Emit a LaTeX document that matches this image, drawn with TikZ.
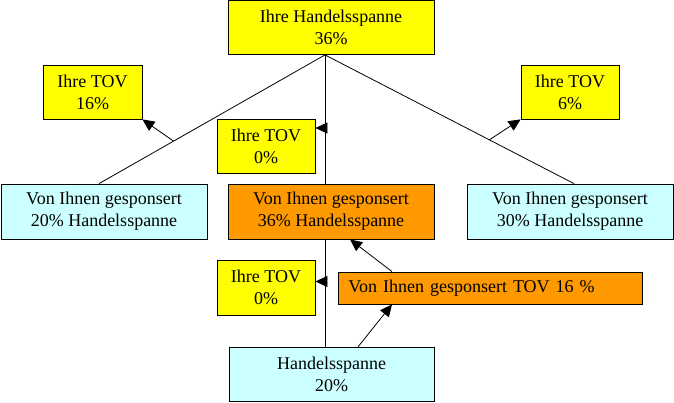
\documentclass[tikz,border=0pt]{standalone}
\usepackage{fontspec}
\setmainfont{Liberation Serif}
\usetikzlibrary{arrows.meta,backgrounds,calc}
\definecolor{tovyellow}{HTML}{FFFF00}
\definecolor{spancyan}{HTML}{CCFFFF}
\definecolor{sponsorange}{HTML}{FF9900}

\begin{document}
\begin{tikzpicture}[x=1pt, y=-1pt,
    box/.style={draw, line width=0.8pt, inner sep=0pt, align=center,
      font=\fontsize{18}{22}\selectfont, minimum height=54pt},
    tov/.style={box, fill=tovyellow, minimum width=98pt},
    span/.style={box, fill=spancyan, minimum width=206pt},
    sponsor/.style={box, fill=sponsorange, minimum width=206pt},
    link/.style={line width=0.8pt},
    >={Triangle[length=12pt,width=11pt]}]
  \useasboundingbox (0,0) rectangle (674,402);

  \node[tov, minimum width=206pt] (top) at (331,27.5) {Ihre Handelsspanne\\36\%};
  \node[tov, minimum width=99pt] (tovL) at (92.5,92) {Ihre TOV\\16\%};
  \node[tov] (tovR) at (570,92) {Ihre TOV\\6\%};
  \node[tov] (tovC1) at (266,146) {Ihre TOV\\0\%};
  \node[span, minimum height=55pt] (spanL) at (104,211.5) {Von Ihnen gesponsert\\20\% Handelsspanne};
  \node[sponsor, minimum height=55pt] (sponsC) at (331,211.5) {Von Ihnen gesponsert\\36\% Handelsspanne};
  \node[span, minimum height=55pt] (spanR) at (570,211.5) {Von Ihnen gesponsert\\30\% Handelsspanne};
  \node[tov, minimum height=55pt] (tovC2) at (266,287.5) {Ihre TOV\\0\%};
  \node[box, fill=sponsorange, anchor=west, align=left, minimum height=32pt,
    text width=284pt, inner xsep=10pt] (sponsTOV) at (338,288) {Von Ihnen gesponsert TOV 16 \%};
  \node[span, minimum width=205pt, minimum height=54.5pt] (base) at (331.5,374.5) {Handelsspanne\\20\%};

  % tree lines behind the boxes
  \coordinate (apex) at ($(top.south)+(-6,0)$);
  \begin{scope}[on background layer]
    \draw[link] (apex) -- ($(spanL.north)+(-5,0)$) coordinate[pos=0.67] (midL);
    \draw[link] (apex) -- ($(spanR.north)+(4,0)$) coordinate[pos=0.66] (midR);
    \draw[link] (apex) -- (apex |- base.north);
  \end{scope}

  \path[->, link]
    (midL) edge (tovL.south east)
    (midR) edge (tovR.south west)
    ($(tovC1.east)+(10,-18)$) edge ($(tovC1.east)+(0,-18)$)
    ($(tovC2.east)+(10,-6)$) edge ($(tovC2.east)+(0,-6)$)
    ($(sponsTOV.north west)+(54,0)$) edge ($(sponsC.south)+(19,0)$)
    ($(base.north)+(26.5,0)$) edge ($(sponsTOV.south west)+(54,0)$)
  ;
\end{tikzpicture}
\end{document}
